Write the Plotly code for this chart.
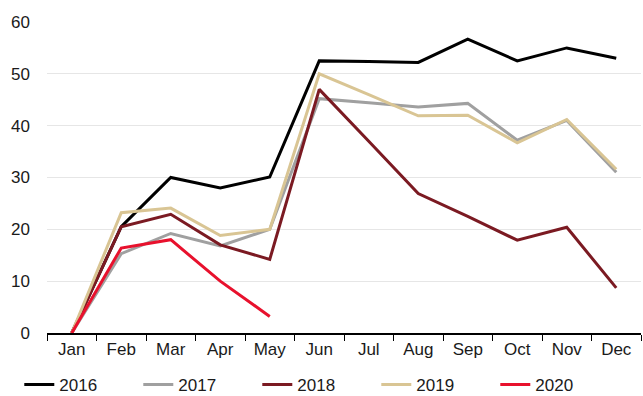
import plotly.graph_objects as go

months = ["Jan", "Feb", "Mar", "Apr", "May", "Jun", "Jul", "Aug", "Sep", "Oct", "Nov", "Dec"]
y2016 = [0, 20.5, 30.0, 28.0, 30.1, 52.5, 52.4, 52.2, 56.7, 52.5, 55.0, 53.0]
y2017 = [0, 15.3, 19.2, 16.8, 20.0, 45.2, 44.4, 43.6, 44.3, 37.2, 41.0, 31.0]
y2018 = [0, 20.5, 22.9, 17.0, 14.2, 47.0, 37.0, 26.9, 22.5, 17.9, 20.4, 8.7]
y2019 = [0, 23.2, 24.1, 18.8, 20.0, 50.0, 46.0, 41.9, 42.0, 36.7, 41.2, 31.6]
y2020 = [0, 16.4, 18.0, 10.0, 3.2]

series = [
    ("2016", y2016, "#000000"),
    ("2017", y2017, "#A0A0A0"),
    ("2018", y2018, "#7B1A22"),
    ("2019", y2019, "#D9C594"),
    ("2020", y2020, "#E8112D"),
]

fig = go.Figure()
for name, vals, color in series:
    fig.add_trace(go.Scatter(
        x=months[:len(vals)], y=vals, name=name, mode="lines",
        line=dict(color=color, width=3),
    ))

font = "Liberation Sans, Arial, sans-serif"
fig.update_layout(
    width=643, height=396,
    margin=dict(l=47, r=2, t=22, b=63, autoexpand=False),
    plot_bgcolor="white", paper_bgcolor="white",
    font=dict(family=font, size=17, color="#1a1a1a"),
    showlegend=True,
    legend=dict(orientation="h", x=0.03, xanchor="left", xref="container",
                y=0.028, yanchor="middle", yref="container",
                font=dict(size=17), entrywidth=74, tracegroupgap=0,
                bgcolor="rgba(0,0,0,0)"),
    xaxis=dict(
        type="category", categoryorder="array", categoryarray=months,
        range=[-0.5, 11.5],
        showline=True, linecolor="black", linewidth=1.5,
        ticks="outside", tickson="boundaries", ticklen=6, tickcolor="black",
        showgrid=False, tickfont=dict(size=17),
    ),
    yaxis=dict(
        range=[0, 60], tickvals=[0, 10, 20, 30, 40, 50, 60],
        showgrid=True, gridcolor="#E6E6E6", gridwidth=1,
        zeroline=False, showline=False, ticks="",
        tickfont=dict(size=17), ticklabelstandoff=16,
    ),
)
fig.write_html("out.html")
